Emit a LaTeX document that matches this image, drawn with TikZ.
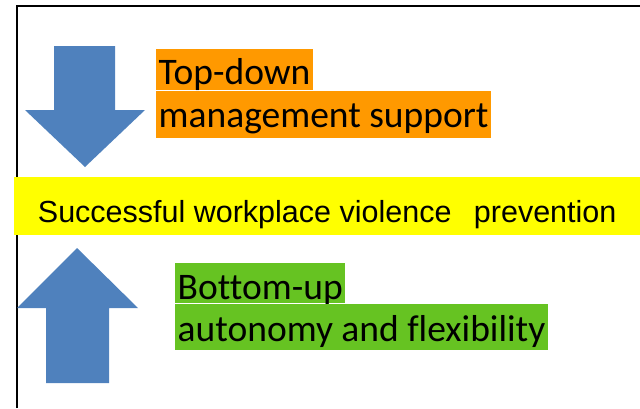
\documentclass[tikz,border=0pt]{standalone}
\usepackage{fontspec}
\usetikzlibrary{positioning}

\newfontfamily\arialfont{Liberation Sans}
\newfontfamily\calfont[Ligatures=NoCommon]{Carlito}
\definecolor{arrowblue}{HTML}{4F81BD}
\definecolor{barorange}{HTML}{FF9900}
\definecolor{baryellow}{HTML}{FFFF00}
\definecolor{bargreen}{HTML}{66C322}

\begin{document}
\begin{tikzpicture}[x=1pt, y=-1pt,
  hilite/.style={inner xsep=2.5pt, inner ysep=0pt, anchor=north west, font=\calfont\fontsize{37.5}{43}\selectfont}]
\useasboundingbox (0,0) rectangle (640,408);

% frame, left and top edge only
\draw[line width=1.5pt] (17,408) -- (17,6) -- (640,6);

\fill[arrowblue] (54,46) -- (115,46) -- (115,110) -- (145,110) -- (85,167) -- (25,110) -- (54,110) -- cycle;
\fill[arrowblue] (46,383) -- (109,383) -- (109,308) -- (138,308) -- (77,248) -- (17,308) -- (46,308) -- cycle;

\node[hilite, fill=barorange, text height=35.5pt, text depth=5.5pt] (topline) at (156,49) {Top-down};
\node[hilite, fill=barorange, text height=36.5pt, text depth=10.5pt, below=0pt of topline.south west, anchor=north west] (topline2) {management support};

\node[fill=baryellow, minimum width=626pt, inner xsep=0pt, inner ysep=0pt, text height=45pt, text depth=13pt, anchor=north west,
  font=\arialfont\fontsize{30.5}{36}\selectfont] (goal) at (14,177) {Successful workplace violence\hspace{14pt} prevention};

\node[hilite, fill=bargreen, text height=36.7pt, text depth=3.3pt] (bottomline) at (175,263) {Bottom-up};
\node[hilite, fill=bargreen, text height=38.3pt, text depth=7.7pt, below=0pt of bottomline.south west, anchor=north west] (bottomline2) {autonomy and flexibility};
\end{tikzpicture}
\end{document}
